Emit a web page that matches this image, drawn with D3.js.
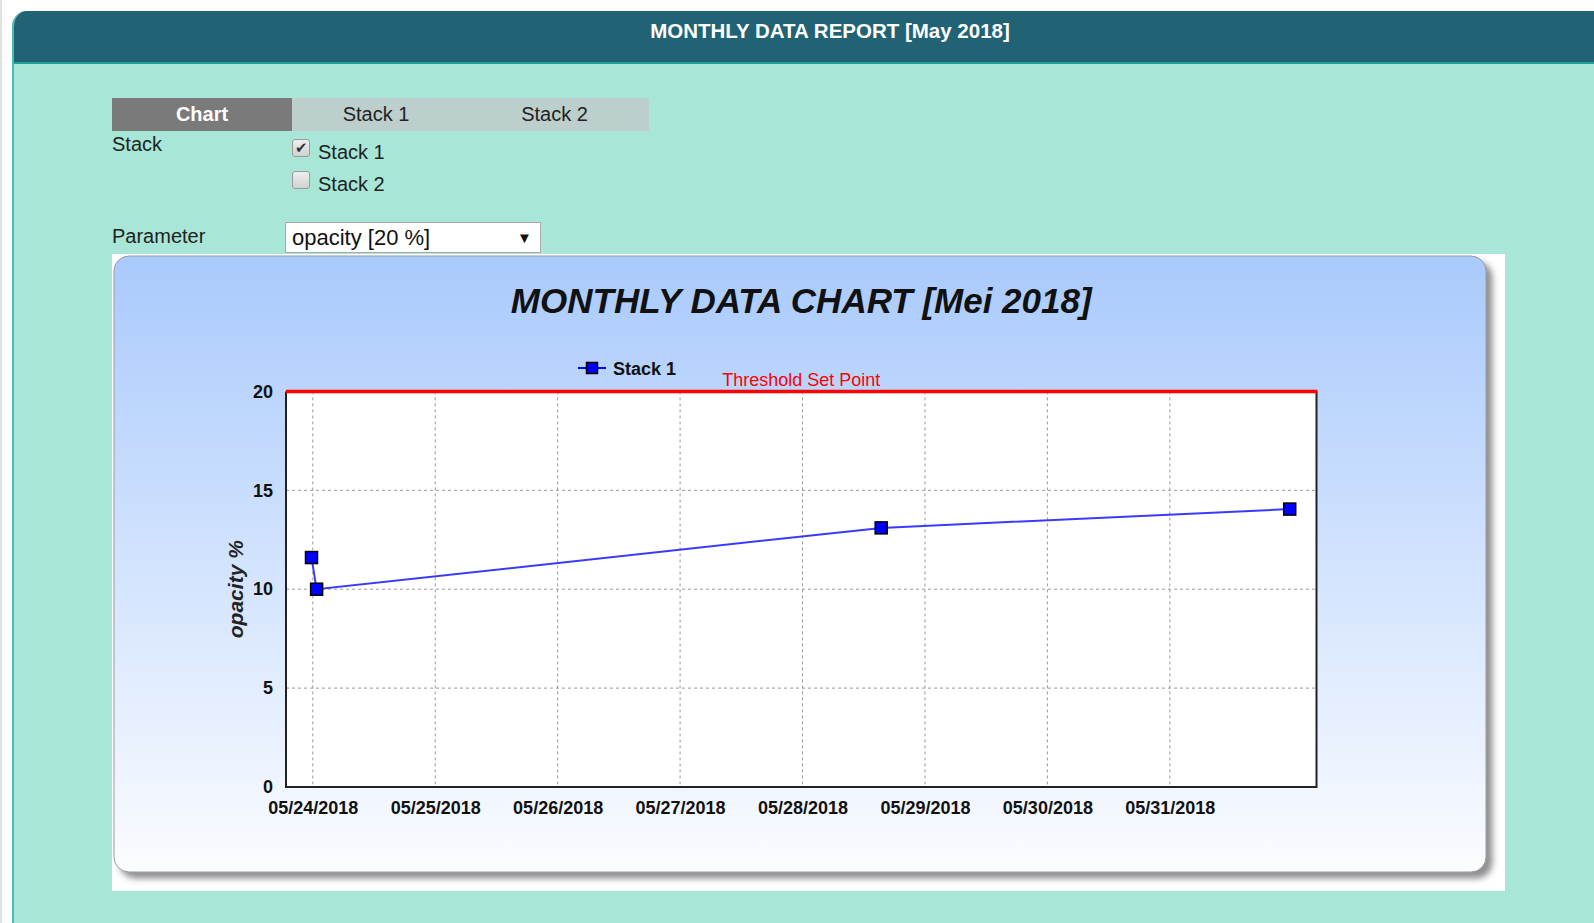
<!DOCTYPE html>
<meta charset="utf-8">
<head>
<style>
body {
  margin: 0;
  width: 1594px;
  height: 923px;
  overflow: hidden;
  background: #fff;
  font-family: "Liberation Sans", Arial, sans-serif;
  position: relative;
}
#edge {
  position: absolute; left: 0; top: 0; width: 2px; height: 923px;
  background: #e2e2e2;
}
#panel {
  position: absolute; left: 12px; top: 11px; width: 1600px; height: 940px;
  background: #a8e6d8;
  border-left: 2px solid #45bdb1;
  border-radius: 15px 15px 0 0;
  overflow: hidden;
}
#header {
  position: absolute; left: 0; top: 0; width: 100%; height: 51px;
  background: #216374;
  border-bottom: 2px solid #1f9f96;
}
#header span {
  position: absolute; left: 816px; top: 20px;
  transform: translate(-50%, -50%);
  color: #fff; font-weight: bold; font-size: 20.5px; white-space: nowrap;
}
.tab {
  position: absolute; top: 98px; height: 33px; line-height: 33px;
  text-align: center; font-size: 20px; color: #222;
  background: #bdcfcc;
}
.tab.active { background: #7a7a7a; color: #fff; font-weight: bold; }
.lbl { position: absolute; font-size: 20px; color: #222; line-height: 20px; }
.cb {
  position: absolute; left: 292px; width: 16px; height: 16px;
  border: 1px solid #9a9a9a; border-radius: 3px;
  background: linear-gradient(#eeeeee, #d2d2d2);
  font-size: 15px; line-height: 16px; text-align: center; color: #333;
}
#select {
  position: absolute; left: 285px; top: 222px; width: 256px; height: 31px;
  background: #fff; border: 1px solid #a9a9a9; box-sizing: border-box;
  font-size: 22px; line-height: 29px; padding-left: 6px; color: #111;
}
#select .arrow { position: absolute; left: 231px; top: 0; font-size: 15px; }
#chart { position: absolute; left: 112px; top: 254px; }
</style>
<script src="https://d3js.org/d3.v7.min.js"></script>
</head>
<body>
<div id="edge"></div>
<div id="panel"><div id="header"><span id="reportTitle"></span></div></div>
<div id="form"></div>
<div id="chart"></div>

<script>
var reportTitle = "MONTHLY DATA REPORT [May 2018]";
var tabNames = ["Chart", "Stack 1", "Stack 2"];
var stackNames = ["Stack 1", "Stack 2"];
var stackChecked = [true, false];
var parameterText = "opacity [20 %]";

var chartTitle = "MONTHLY DATA CHART [Mei 2018]";
var seriesName = "Stack 1";
var yLabel = "opacity %";
var thresholdLabel = "Threshold Set Point";
var threshold = 20;

// measurements for Stack 1
var times = ["2018-05-23 23:45", "2018-05-24 00:45", "2018-05-28 15:25", "2018-05-31 23:30"];
var values = [11.6, 10.0, 13.1, 14.05];

var xDomain = ["2018-05-23 18:45", "2018-06-01 04:45"];
var xTicks = ["05/24/2018", "05/25/2018", "05/26/2018", "05/27/2018",
              "05/28/2018", "05/29/2018", "05/30/2018", "05/31/2018"];
var yDomain = [0, 20];
var yTicks = [0, 5, 10, 15, 20];

d3.select("#reportTitle").text(reportTitle);

// tabs + form controls
var form = d3.select("#form");
var tabX = [112, 292, 460, 649];
form.selectAll(".tab").data(tabNames).enter().append("div")
    .attr("class", function(d, i) { return i == 0 ? "tab active" : "tab"; })
    .style("left", function(d, i) { return tabX[i] + "px"; })
    .style("width", function(d, i) { return (tabX[i + 1] - tabX[i]) + "px"; })
    .text(function(d) { return d; });

form.append("div").attr("class", "lbl").style("left", "112px").style("top", "134px").text("Stack");
stackNames.forEach(function(s, i) {
  form.append("div").attr("class", "cb")
      .style("top", (139 + i * 32) + "px")
      .text(stackChecked[i] ? "\u2714" : "");
  form.append("div").attr("class", "lbl")
      .style("left", "318px").style("top", (142 + i * 32) + "px").text(s);
});
form.append("div").attr("class", "lbl").style("left", "112px").style("top", "226px").text("Parameter");
var sel = form.append("div").attr("id", "select").text(parameterText);
sel.append("span").attr("class", "arrow").text("\u25BC");

// chart
var W = 1393, H = 637;
var svg = d3.select("#chart").append("svg").attr("width", W).attr("height", H);
var defs = svg.append("defs");
var grad = defs.append("linearGradient").attr("id", "bg").attr("x1", 0).attr("y1", 0).attr("x2", 0).attr("y2", 1);
grad.append("stop").attr("offset", "0%").attr("stop-color", "#a9cafc");
grad.append("stop").attr("offset", "100%").attr("stop-color", "#fbfcff");
var f = defs.append("filter").attr("id", "shadow").attr("x", "-5%").attr("y", "-5%").attr("width", "112%").attr("height", "115%");
f.append("feDropShadow").attr("dx", 6).attr("dy", 6).attr("stdDeviation", 3)
    .attr("flood-color", "#444").attr("flood-opacity", 0.6);

svg.append("rect").attr("width", W).attr("height", H).attr("fill", "#fff");
svg.append("rect").attr("x", 2).attr("y", 2).attr("width", 1372).attr("height", 616)
    .attr("rx", 15).attr("fill", "url(#bg)").attr("stroke", "#9a9a9a")
    .attr("filter", "url(#shadow)");

var m = {left: 174, right: 1204.5, top: 137.4, bottom: 533};
var parse = d3.timeParse("%Y-%m-%d %H:%M");
var parseTick = d3.timeParse("%m/%d/%Y");
var x = d3.scaleTime().domain(xDomain.map(parse)).range([m.left, m.right]);
var y = d3.scaleLinear().domain(yDomain).range([m.bottom, m.top]);

svg.append("rect").attr("x", m.left).attr("y", m.top)
    .attr("width", m.right - m.left).attr("height", m.bottom - m.top).attr("fill", "#fff");

// grid
var g = svg.append("g");
g.selectAll(".gx").data(xTicks).enter().append("line")
    .attr("x1", function(d) { return x(parseTick(d)); })
    .attr("x2", function(d) { return x(parseTick(d)); })
    .attr("y1", m.top).attr("y2", m.bottom)
    .attr("stroke", "#9a9a9a").attr("stroke-dasharray", "3,3");
g.selectAll(".gy").data(yTicks.slice(1, -1)).enter().append("line")
    .attr("x1", m.left).attr("x2", m.right)
    .attr("y1", function(d) { return y(d); }).attr("y2", function(d) { return y(d); })
    .attr("stroke", "#9a9a9a").attr("stroke-dasharray", "3,3");

// frame
svg.append("path")
    .attr("d", "M" + m.left + "," + m.top + "V" + m.bottom + "H" + m.right + "V" + m.top)
    .attr("fill", "none").attr("stroke", "#222").attr("stroke-width", 2);

// threshold
svg.append("line").attr("x1", m.left).attr("x2", m.right + 1)
    .attr("y1", y(threshold)).attr("y2", y(threshold))
    .attr("stroke", "#ff0000").attr("stroke-width", 3.5);
svg.append("text").attr("x", (m.left + m.right) / 2).attr("y", y(threshold) - 5)
    .attr("text-anchor", "middle").attr("fill", "#ff0000")
    .style("font-size", "18px").text(thresholdLabel);

// axes
var xAxis = d3.axisBottom(x).tickValues(xTicks.map(parseTick))
    .tickFormat(d3.timeFormat("%m/%d/%Y")).tickSize(0).tickPadding(14);
var ax = svg.append("g").attr("transform", "translate(0," + m.bottom + ")").call(xAxis);
ax.select(".domain").remove();
ax.selectAll("text").attr("fill", "#111").style("font-size", "18px").style("font-weight", "bold")
    .style("font-family", "'Liberation Sans', Arial, sans-serif");

var yAxis = d3.axisLeft(y).tickValues(yTicks).tickSize(0).tickPadding(13);
var ay = svg.append("g").attr("transform", "translate(" + m.left + ",0)").call(yAxis);
ay.select(".domain").remove();
ay.selectAll("text").attr("fill", "#111").style("font-size", "18px").style("font-weight", "bold")
    .style("font-family", "'Liberation Sans', Arial, sans-serif");

svg.append("text")
    .attr("transform", "translate(123," + (m.top + m.bottom) / 2 + ") rotate(-90)")
    .attr("text-anchor", "middle").attr("dominant-baseline", "central")
    .style("font-size", "21px").style("font-weight", "bold").style("font-style", "italic")
    .attr("fill", "#222").text(yLabel);

// title
svg.append("text").attr("x", (m.left + m.right) / 2).attr("y", 59)
    .attr("text-anchor", "middle").style("font-size", "35px")
    .style("font-weight", "bold").style("font-style", "italic").attr("fill", "#111")
    .text(chartTitle);

// series
var pts = times.map(function(t, i) { return {t: parse(t), v: values[i]}; });
var line = d3.line().x(function(d) { return x(d.t); }).y(function(d) { return y(d.v); });
svg.append("path").datum(pts).attr("d", line)
    .attr("fill", "none").attr("stroke", "#3a3aff").attr("stroke-width", 2);
svg.selectAll(".pt").data(pts).enter().append("rect")
    .attr("x", function(d) { return x(d.t) - 6; })
    .attr("y", function(d) { return y(d.v) - 6; })
    .attr("width", 12).attr("height", 12)
    .attr("fill", "#0000ff").attr("stroke", "#000").attr("stroke-width", 1.5);

// legend
var lg = svg.append("g").attr("transform", "translate(480,114)");
lg.append("line").attr("x1", -14).attr("x2", 14).attr("stroke", "#0000ff").attr("stroke-width", 2);
lg.append("rect").attr("x", -5.5).attr("y", -5.5).attr("width", 11).attr("height", 11)
    .attr("fill", "#0000ff").attr("stroke", "#000").attr("stroke-width", 1.5);
lg.append("text").attr("x", 21).attr("y", 6.5).style("font-size", "18px")
    .style("font-weight", "bold").attr("fill", "#111").text(seriesName);
</script>
</body>
